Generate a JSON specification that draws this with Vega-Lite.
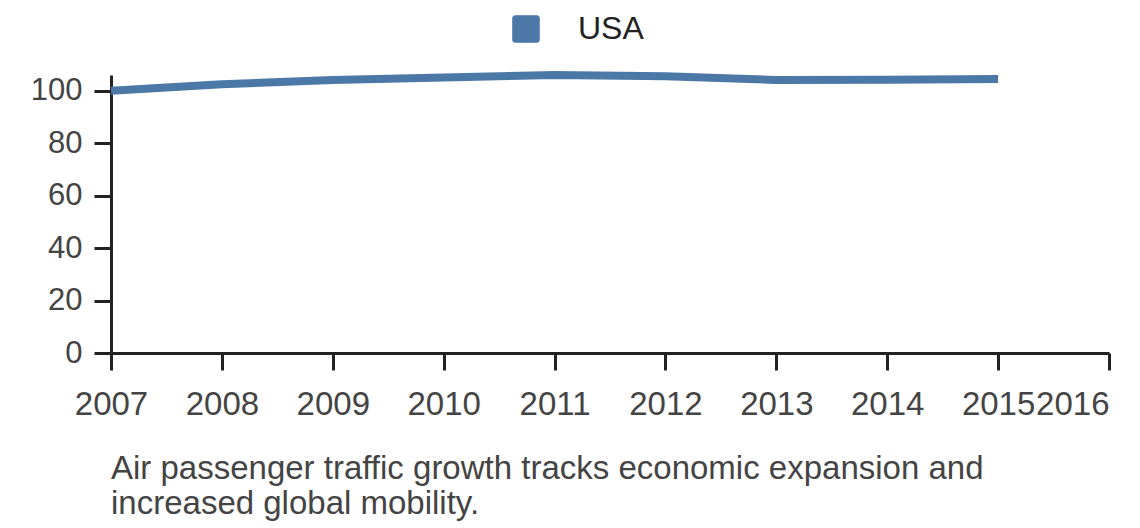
{
  "$schema": "https://vega.github.io/schema/vega-lite/v6.json",
  "width": 998,
  "height": 278,
  "autosize": "none",
  "padding": {"left": 111, "top": 75, "right": 31, "bottom": 175},
  "background": "white",
  "title": {
    "text": ["Air passenger traffic growth tracks economic expansion and", "increased global mobility."],
    "orient": "bottom",
    "anchor": "start",
    "frame": "group",
    "font": "Liberation Sans",
    "fontSize": 33,
    "fontWeight": "normal",
    "color": "#444",
    "lineHeight": 35,
    "offset": 32
  },
  "data": {
    "values": [
      {"year": 2007, "country": "USA", "value": 100},
      {"year": 2008, "country": "USA", "value": 102.5},
      {"year": 2009, "country": "USA", "value": 104.1},
      {"year": 2010, "country": "USA", "value": 105},
      {"year": 2011, "country": "USA", "value": 106},
      {"year": 2012, "country": "USA", "value": 105.5},
      {"year": 2013, "country": "USA", "value": 104.1},
      {"year": 2014, "country": "USA", "value": 104.2},
      {"year": 2015, "country": "USA", "value": 104.5}
    ]
  },
  "mark": {"type": "line", "strokeWidth": 8, "strokeCap": "butt", "interpolate": "linear"},
  "encoding": {
    "x": {
      "field": "year",
      "type": "quantitative",
      "scale": {"domain": [2007, 2016], "nice": false, "zero": false},
      "axis": {
        "title": null,
        "values": [2007, 2008, 2009, 2010, 2011, 2012, 2013, 2014, 2015, 2016],
        "format": "d",
        "labelFontSize": 33,
        "labelPadding": 18,
        "labelAlign": {"expr": "datum.value == 2016 ? 'right' : 'center'"}
      }
    },
    "y": {
      "field": "value",
      "type": "quantitative",
      "scale": {"domain": [0, 106], "nice": false},
      "axis": {"title": null, "values": [0, 20, 40, 60, 80, 100], "labelFontSize": 31, "labelPadding": 12}
    },
    "color": {
      "field": "country",
      "type": "nominal",
      "scale": {"range": ["#4c78a8"]},
      "legend": {
        "title": null,
        "orient": "none",
        "legendX": 399,
        "legendY": -62,
        "symbolType": "M-0.85,-1H0.85A0.15,0.15 0 0 1 1,-0.85V0.85A0.15,0.15 0 0 1 0.85,1H-0.85A0.15,0.15 0 0 1 -1,0.85V-0.85A0.15,0.15 0 0 1 -0.85,-1Z",
        "symbolSize": 700,
        "symbolFillColor": "#4c78a8",
        "symbolStrokeColor": "#4c78a8",
        "symbolStrokeWidth": 1,
        "symbolOpacity": 1,
        "labelFontSize": 32,
        "labelColor": "#222",
        "labelOffset": 36,
        "labelFont": "Liberation Sans"
      }
    }
  },
  "config": {
    "view": {"stroke": null},
    "axis": {
      "grid": false,
      "domainColor": "#222",
      "domainWidth": 3,
      "tickColor": "#222",
      "tickWidth": 3,
      "tickSize": 17,
      "labelColor": "#444",
      "labelFont": "Liberation Sans"
    }
  }
}
